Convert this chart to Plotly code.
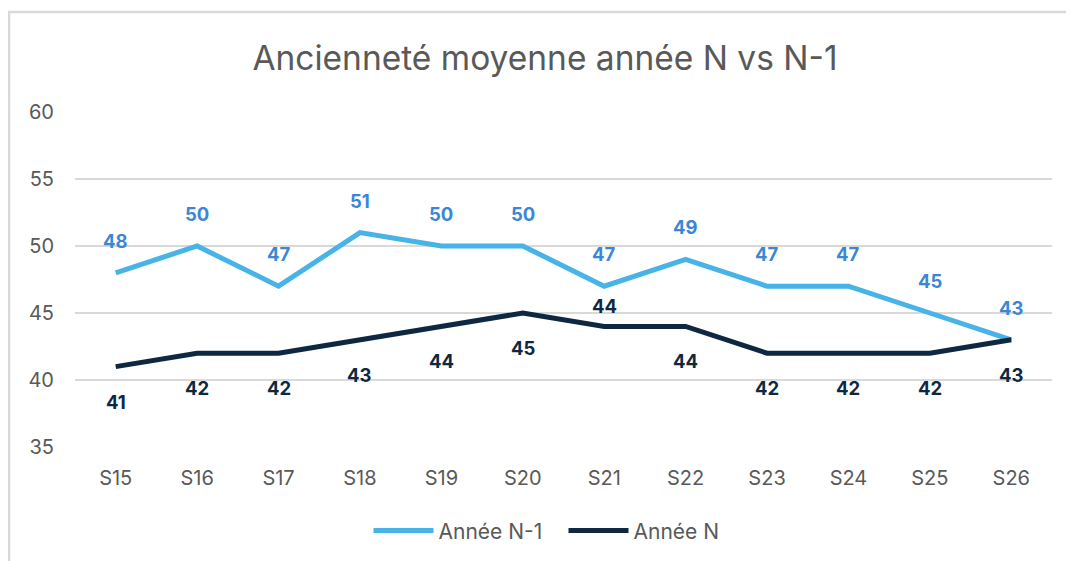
import plotly.graph_objects as go

categories = ["S15", "S16", "S17", "S18", "S19", "S20", "S21", "S22", "S23", "S24", "S25", "S26"]
annee_n1 = [48, 50, 47, 51, 50, 50, 47, 49, 47, 47, 45, 43]
annee_n = [41, 42, 42, 43, 44, 45, 44, 44, 42, 42, 42, 43]
# label placement for "Année N" (+1 above, -1 below)
n_label_side = [-1, -1, -1, -1, -1, -1, 1, -1, -1, -1, -1, -1]

c_n1 = "#47b3e6"
c_n1_txt = "#3a87d6"
c_n = "#0e2841"
font = "Inter, Liberation Sans, Arial, sans-serif"

fig = go.Figure()
fig.add_trace(go.Scatter(x=categories, y=annee_n1, mode="lines", name="Année N-1",
                         line=dict(color=c_n1, width=5)))
fig.add_trace(go.Scatter(x=categories, y=annee_n, mode="lines", name="Année N",
                         line=dict(color=c_n, width=5)))

annotations = []
for c, v in zip(categories, annee_n1):
    annotations.append(dict(x=c, y=v, text=str(v), showarrow=False, yshift=32,
                            font=dict(size=18.5, color=c_n1_txt, family=font, weight="bold")))
for c, v, s in zip(categories, annee_n, n_label_side):
    annotations.append(dict(x=c, y=v, text=str(v), showarrow=False,
                            yshift=20 if s > 0 else -35,
                            font=dict(size=18.5, color=c_n, family=font, weight="bold")))

fig.update_layout(
    width=1074, height=561,
    paper_bgcolor="white", plot_bgcolor="white",
    margin=dict(l=67, r=30, t=104, b=122),
    title=dict(text="Ancienneté moyenne année N vs N-1", x=0.5, xanchor="center",
               y=1 - 50 / 561, yanchor="middle",
               font=dict(size=33.5, color="#595959", family=font)),
    font=dict(family=font, color="#595959"),
    xaxis=dict(type="category", range=[-0.5, 11.5], showgrid=False, showline=False,
               ticks="", tickfont=dict(size=20, color="#595959"), ticklabelstandoff=17),
    yaxis=dict(range=[35, 60], dtick=5, tick0=35, showgrid=True, gridcolor="#d9d9d9",
               gridwidth=1.5, zeroline=False, showline=False, ticks="",
               tickfont=dict(size=20, color="#595959"), ticklabelstandoff=20),
    showlegend=True,
    legend=dict(orientation="h", x=0.5, xanchor="center", y=-0.25, yanchor="middle",
                font=dict(size=21, color="#595959"), itemwidth=60, entrywidth=120),
    annotations=annotations,
    shapes=[dict(type="rect", xref="paper", yref="paper", x0=-0.0676, x1=1.2,
                 y0=-0.6, y1=1.2985, line=dict(color="#d9d9d9", width=2.5),
                 fillcolor="rgba(0,0,0,0)", layer="below")],
)

fig.write_html("out.html")
